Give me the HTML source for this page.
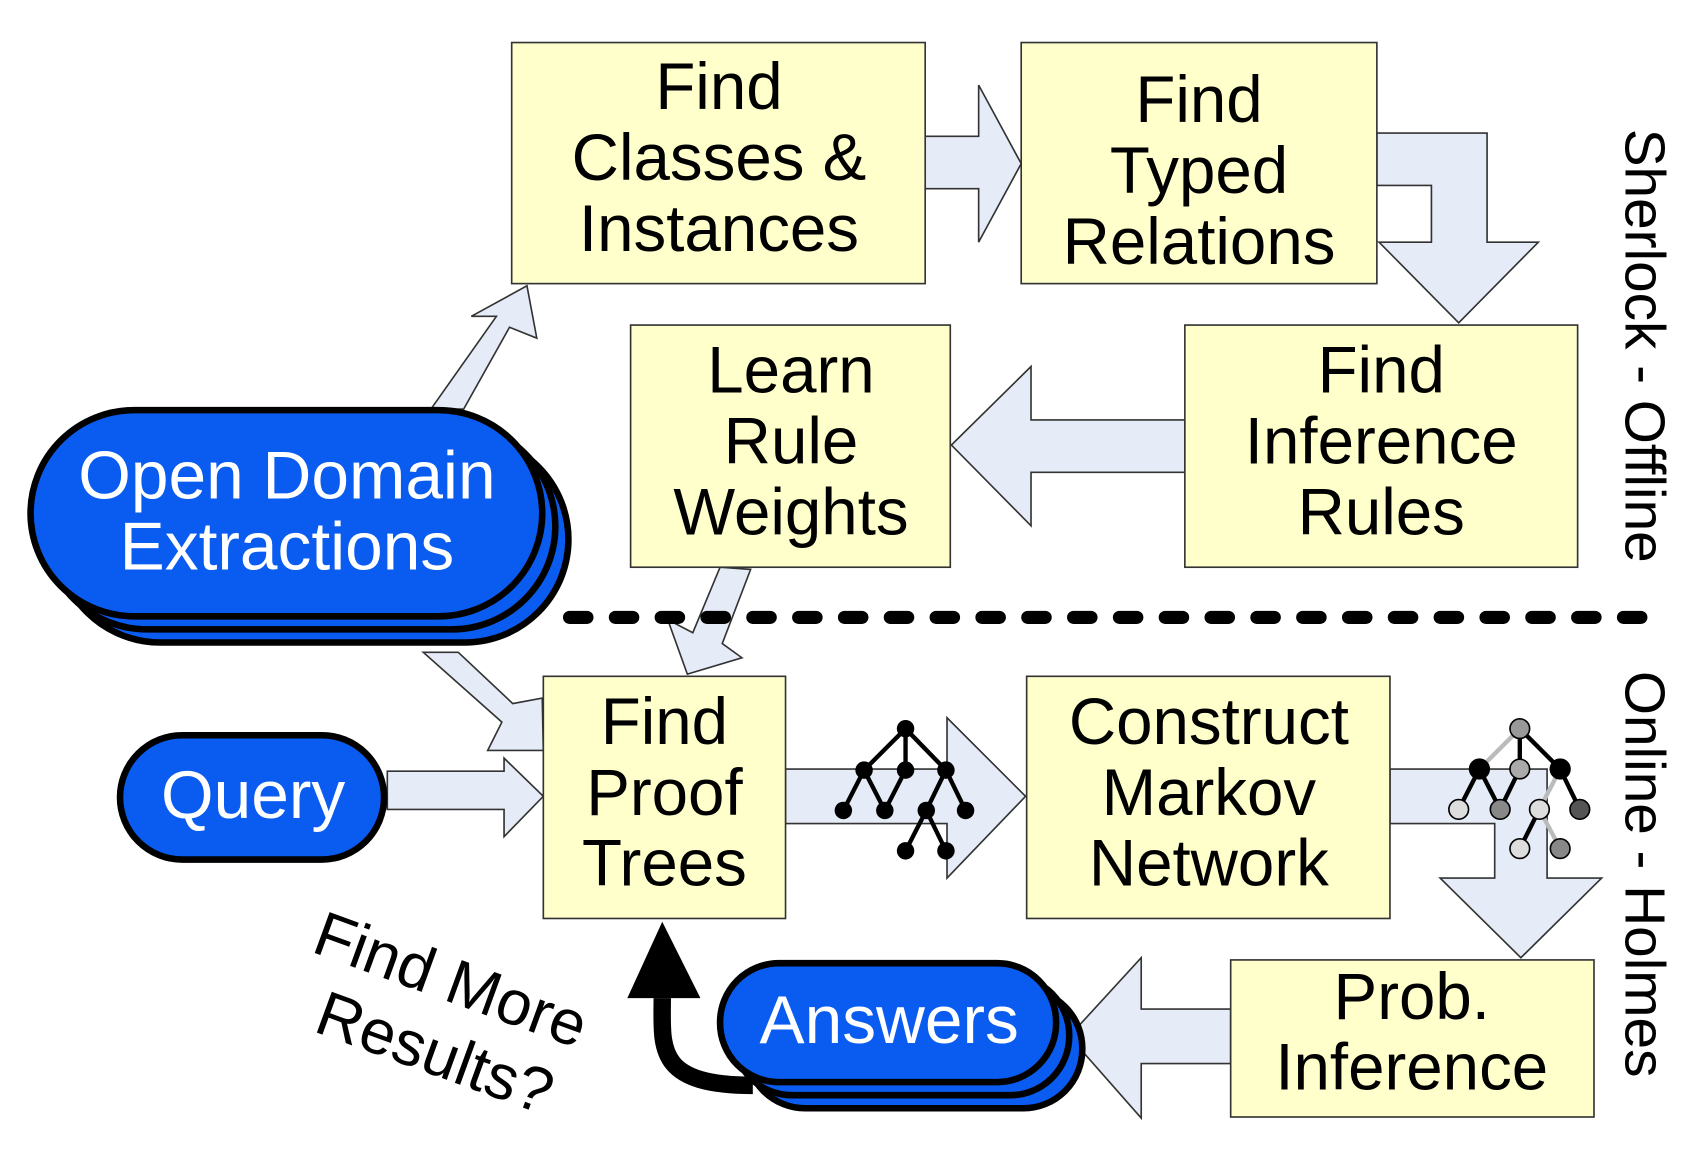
<!DOCTYPE html>
<html><head><style>html,body{margin:0;padding:0;background:#fff}svg{display:block}</style></head>
<body>
<svg width="1702" height="1153" viewBox="0 0 1560 1057" preserveAspectRatio="none" xmlns="http://www.w3.org/2000/svg" font-family="Liberation Sans, sans-serif">
<g fill="#e6ecf7" stroke="#333" stroke-width="1.5">
<polygon points="848,125 897,125 897,78 936,150 897,222 897,173 848,173"/>
<polygon points="1262,122 1363,122 1363,222 1410,222 1337,296 1264,222 1312,222 1312,170 1262,170"/>
<polygon points="1086,385 945,385 945,336 872,408 945,482 945,433 1086,433"/>
<polygon points="660,520 688,522 662,590 680,603 630,618 612,568 635,580"/>
<polygon points="395,375 425,375 467,300 492,310 483,262 432,290 455,290"/>
<polygon points="388,598 420,598 470,645 497,640 498,688 447,688 460,662"/>
<polygon points="355,707 462,707 462,695 498,730 462,767 462,742 355,742"/>
<polygon points="720,705 868,705 868,658 940,730 868,805 868,755 720,755"/>
<polygon points="1274,705 1418,705 1418,805 1468,805 1394,878 1320,805 1370,805 1370,755 1274,755"/>
<polygon points="1128,925 1046,925 1046,878 980,950 1046,1025 1046,975 1128,975"/>
</g>
<g fill="#ffffcc" stroke="#333" stroke-width="1.5">
<rect x="469" y="39" width="379" height="221"/>
<rect x="936" y="39" width="326" height="221"/>
<rect x="578" y="298" width="293" height="222"/>
<rect x="1086" y="298" width="360" height="222"/>
<rect x="498" y="620" width="222" height="222"/>
<rect x="941" y="620" width="333" height="222"/>
<rect x="1128" y="880" width="333" height="144"/>
</g>
<g font-size="60" text-anchor="middle" fill="#000">
<text x="659" y="100">Find</text><text x="659" y="165">Classes &amp;</text><text x="659" y="230">Instances</text>
<text x="1099" y="112">Find</text><text x="1099" y="177">Typed</text><text x="1099" y="242">Relations</text>
<text x="725" y="360">Learn</text><text x="725" y="425">Rule</text><text x="725" y="490">Weights</text>
<text x="1266" y="360">Find</text><text x="1266" y="425">Inference</text><text x="1266" y="490">Rules</text>
<text x="609" y="682">Find</text><text x="609" y="747">Proof</text><text x="609" y="812">Trees</text>
<text x="1108" y="682">Construct</text><text x="1108" y="747">Markov</text><text x="1108" y="812">Network</text>
<text x="1294" y="934">Prob.</text><text x="1294" y="999">Inference</text>
</g>
<line x1="522" y1="566" x2="1510" y2="566" stroke="#000" stroke-width="12" stroke-dasharray="16 26" stroke-linecap="round"/>
<g fill="#0a5cf0" stroke="#000" stroke-width="6">
<rect x="52" y="400" width="469" height="189" rx="95"/>
<rect x="40" y="388" width="469" height="189" rx="95"/>
<rect x="28" y="376" width="469" height="189" rx="95"/>
<rect x="110" y="674" width="242" height="114" rx="57"/>
</g>
<path d="M690,995 C600,995 607,960 607,915" fill="none" stroke="#000" stroke-width="16"/>
<polygon points="575,915 642,915 607,845" fill="#000"/>
<g fill="#0a5cf0" stroke="#000" stroke-width="6">
<rect x="684" y="907" width="308" height="109" rx="54"/>
<rect x="672" y="895" width="308" height="109" rx="54"/>
<rect x="660" y="883" width="308" height="109" rx="54"/>
</g>
<g fill="#fff" font-size="62" text-anchor="middle">
<text x="263" y="457">Open Domain</text><text x="263" y="522">Extractions</text>
<text x="232" y="750">Query</text>
<text x="815" y="956">Answers</text>
</g>
<g font-size="58" fill="#000">
<text transform="translate(284,872) rotate(20)">Find More</text>
<text transform="translate(286,945) rotate(20)">Results?</text>
</g>
<g font-size="52" fill="#000">
<text transform="translate(1490,118) rotate(90)">Sherlock - Offline</text>
<text transform="translate(1490,615) rotate(90)">Online - Holmes</text>
</g>
<g stroke="#000" stroke-width="4">
<line x1="830" y1="668" x2="792" y2="706"/><line x1="830" y1="668" x2="830" y2="706"/><line x1="830" y1="668" x2="867" y2="706"/>
<line x1="792" y1="706" x2="773" y2="743"/><line x1="792" y1="706" x2="811" y2="743"/><line x1="830" y1="706" x2="811" y2="743"/>
<line x1="867" y1="706" x2="849" y2="743"/><line x1="867" y1="706" x2="885" y2="743"/>
<line x1="849" y1="743" x2="830" y2="780"/><line x1="849" y1="743" x2="867" y2="780"/>
</g>
<g fill="#000">
<circle cx="830" cy="668" r="8"/><circle cx="792" cy="706" r="8"/><circle cx="830" cy="706" r="8"/><circle cx="867" cy="706" r="8"/>
<circle cx="773" cy="743" r="8"/><circle cx="811" cy="743" r="8"/><circle cx="849" cy="743" r="8"/><circle cx="885" cy="743" r="8"/>
<circle cx="830" cy="780" r="8"/><circle cx="867" cy="780" r="8"/>
</g>
<g stroke-width="4">
<line x1="1393" y1="668" x2="1356" y2="705" stroke="#bbb"/><line x1="1393" y1="668" x2="1393" y2="705" stroke="#000"/><line x1="1393" y1="668" x2="1430" y2="705" stroke="#000"/>
<line x1="1356" y1="705" x2="1337" y2="742" stroke="#000"/><line x1="1356" y1="705" x2="1375" y2="742" stroke="#000"/><line x1="1393" y1="705" x2="1375" y2="742" stroke="#000"/>
<line x1="1430" y1="705" x2="1411" y2="742" stroke="#bbb"/><line x1="1430" y1="705" x2="1448" y2="742" stroke="#000"/>
<line x1="1411" y1="742" x2="1393" y2="778" stroke="#000"/><line x1="1411" y1="742" x2="1430" y2="778" stroke="#bbb"/>
</g>
<g stroke="#000" stroke-width="1.5">
<circle cx="1393" cy="668" r="9" fill="#999"/><circle cx="1356" cy="705" r="9" fill="#000"/><circle cx="1393" cy="705" r="9" fill="#aaa"/><circle cx="1430" cy="705" r="9" fill="#000"/>
<circle cx="1337" cy="742" r="9" fill="#ddd"/><circle cx="1375" cy="742" r="9" fill="#888"/><circle cx="1411" cy="742" r="9" fill="#ddd"/><circle cx="1448" cy="742" r="9" fill="#555"/>
<circle cx="1393" cy="778" r="9" fill="#ddd"/><circle cx="1430" cy="778" r="9" fill="#888"/>
</g>
</svg>
</body></html>
